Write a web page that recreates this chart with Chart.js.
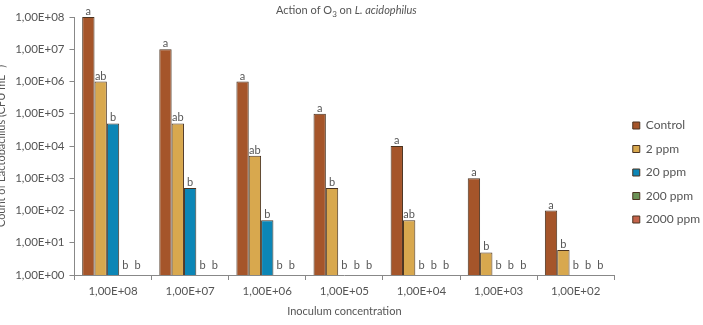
<!DOCTYPE html>
<html>
<head>
<meta charset="utf-8">
<script src="https://cdn.jsdelivr.net/npm/chart.js@4"></script>
<style>
  html, body { margin: 0; padding: 0; background: #fff; overflow: hidden; }
  #wrap { position: relative; width: 705px; height: 325px; margin-left: -2px; }
</style>
</head>
<body>
<div id="wrap"><canvas id="myChart"></canvas></div>
<script>
/* globals Chart:false */
const categories = ['1,00E+08', '1,00E+07', '1,00E+06', '1,00E+05', '1,00E+04', '1,00E+03', '1,00E+02'];
const control = [1e8, 1e7, 1e6, 1e5, 1e4, 1e3, 1e2];
const ppm2 = [1e6, 5e4, 5e3, 5e2, 50, 5, 6];
const ppm20 = [5e4, 5e2, 50, null, null, null, null];
const ppm200 = [null, null, null, null, null, null, null];
const ppm2000 = [null, null, null, null, null, null, null];
const lettersControl = ['a', 'a', 'a', 'a', 'a', 'a', 'a'];
const letters2 = ['ab', 'ab', 'ab', 'b', 'ab', 'b', 'b'];
const letters20 = ['b', 'b', 'b', 'b', 'b', 'b', 'b'];
const letters200 = ['b', 'b', 'b', 'b', 'b', 'b', 'b'];
const letters2000 = ['b', 'b', 'b', 'b', 'b', 'b', 'b'];
const yTicks = [1, 10, 100, 1e3, 1e4, 1e5, 1e6, 1e7, 1e8];

const textColor = '#555';
const fontFamily = 'Lato, "DejaVu Sans", sans-serif';

function sci(v) {
  const e = Math.round(Math.log10(v));
  return '1,00E+' + (e < 10 ? '0' + e : e);
}

// letters over the bars (or at the base when there is no bar)
const letterPlugin = {
  id: 'letters',
  afterDatasetsDraw(chart) {
    const ctx = chart.ctx;
    const bottom = chart.chartArea.bottom;
    ctx.save();
    ctx.fillStyle = textColor;
    ctx.font = '11px ' + fontFamily;
    ctx.textAlign = 'center';
    ctx.textBaseline = 'alphabetic';
    chart.data.datasets.forEach((ds, di) => {
      const meta = chart.getDatasetMeta(di);
      meta.data.forEach((bar, i) => {
        const txt = ds.letters[i];
        if (!txt) return;
        const v = ds.data[i];
        const y = (v === null) ? bottom - 6 : bar.y - 2;
        ctx.fillText(txt, bar.x, y);
      });
    });
    ctx.restore();
  }
};

// title with subscript and italic part
const titlePlugin = {
  id: 'richTitle',
  afterDraw(chart) {
    const ctx = chart.ctx;
    const cx = (chart.chartArea.left + chart.chartArea.right) / 2 + 2;
    const y = 14;
    const parts = [
      { t: 'Action of O', f: '11px ' + fontFamily, dy: 0 },
      { t: '3', f: '8px ' + fontFamily, dy: 3 },
      { t: ' on ', f: '11px ' + fontFamily, dy: 0 },
      { t: 'L. acidophilus', f: 'italic 11px ' + fontFamily, dy: 0 }
    ];
    ctx.save();
    ctx.fillStyle = textColor;
    ctx.textBaseline = 'alphabetic';
    ctx.textAlign = 'left';
    let w = 0;
    parts.forEach(p => { ctx.font = p.f; w += ctx.measureText(p.t).width; });
    let x = cx - w / 2;
    parts.forEach(p => {
      ctx.font = p.f;
      ctx.fillText(p.t, x, y + p.dy);
      x += ctx.measureText(p.t).width;
    });
    ctx.restore();
  }
};

// push the legend items a little away from the plot, and a bit lower
const legendGap = 7;
const legendDrop = 5;
const legendSpacePlugin = {
  id: 'legendSpace',
  afterLayout(chart) {
    const l = chart.legend;
    if (!l) return;
    l.left += legendGap;
    l.right += legendGap;
    l.top += legendDrop;
    l.bottom += legendDrop;
  }
};

const border = '#4a3320';
const myChart = document.getElementById('myChart');
new Chart(myChart, {
  type: 'bar',
  data: {
    labels: categories,
    datasets: [
      { label: 'Control', data: control, letters: lettersControl, backgroundColor: '#A5552A', borderColor: border, borderWidth: 1 },
      { label: '2 ppm', data: ppm2, letters: letters2, backgroundColor: '#D8A84E', borderColor: border, borderWidth: 1 },
      { label: '20 ppm', data: ppm20, letters: letters20, backgroundColor: '#0C86B6', borderColor: border, borderWidth: 1 },
      { label: '200 ppm', data: ppm200, letters: letters200, backgroundColor: '#6C9256', borderColor: border, borderWidth: 1 },
      { label: '2000 ppm', data: ppm2000, letters: letters2000, backgroundColor: '#C4634A', borderColor: border, borderWidth: 1 }
    ]
  },
  plugins: [letterPlugin, titlePlugin, legendSpacePlugin],
  options: {
    responsive: true,
    maintainAspectRatio: false,
    animation: false,
    datasets: { bar: { categoryPercentage: 0.8, barPercentage: 1.0 } },
    layout: { padding: { top: 17, bottom: 7, left: 0, right: 0 } },
    plugins: {
      tooltip: { enabled: false },
      legend: {
        position: 'right',
        labels: {
          boxWidth: 7,
          boxHeight: 7,
          padding: 11.5,
          color: textColor,
          font: { family: fontFamily, size: 12 }
        }
      }
    },
    scales: {
      x: {
        grid: { offset: true, drawOnChartArea: false, tickLength: 5, color: '#888' },
        border: { color: '#888' },
        ticks: { color: textColor, font: { family: fontFamily, size: 11.5 }, padding: 4 },
        title: { display: true, text: 'Inoculum concentration', color: textColor, font: { family: fontFamily, size: 11 }, padding: { top: 3, bottom: 0 } }
      },
      y: {
        type: 'logarithmic',
        min: 1,
        max: 1e8,
        afterBuildTicks(scale) { scale.ticks = yTicks.map(v => ({ value: v })); },
        grid: { drawOnChartArea: false, tickLength: 5, color: '#888' },
        border: { color: '#888' },
        ticks: { color: textColor, font: { family: fontFamily, size: 11.5 }, padding: 5, callback: v => sci(v) },
        title: { display: true, text: 'Count of Lactobacillus (CFU mL\u207B\u00B9)', color: textColor, font: { family: fontFamily, size: 11 }, padding: { top: -3, bottom: 2 } }
      }
    }
  }
});
</script>
</body>
</html>
